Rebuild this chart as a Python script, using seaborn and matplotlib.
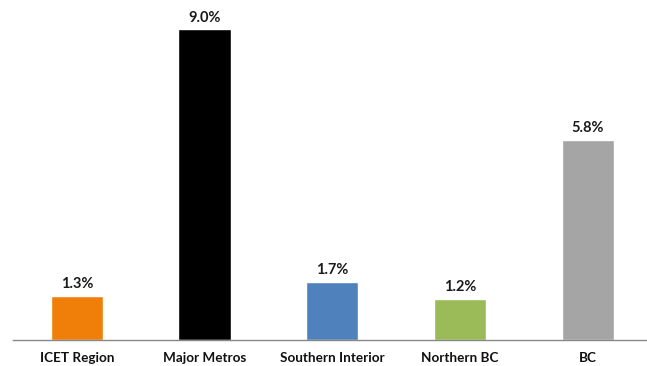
import matplotlib
matplotlib.use("Agg")
import matplotlib.pyplot as plt
import seaborn as sns
import pandas as pd

categories = ["ICET Region", "Major Metros", "Southern Interior", "Northern BC", "BC"]
values = [1.3, 9.0, 1.7, 1.2, 5.8]
colors = ["#F07F09", "#000000", "#4F81BD", "#9BBB59", "#A5A5A5"]

df = pd.DataFrame({"region": categories, "share": values})

sns.set_style("white")
plt.rcParams["font.family"] = ["Lato", "DejaVu Sans"]

fig = plt.figure(figsize=(6.47, 3.66), dpi=100)
ax = fig.add_axes([0.0201, 0.0697, 0.987, 0.930])

sns.barplot(data=df, x="region", y="share", hue="region", palette=colors,
            width=0.41, saturation=1, legend=False, ax=ax)

ax.set_xlim(-0.5, len(categories) - 0.5)
ax.set_ylim(0, 9.84)

for i, v in enumerate(values):
    ax.text(i, v + 0.13, f"{v:.1f}%", ha="center", va="bottom",
            fontsize=10.5, fontweight="bold", color="#1a1a1a")

for side in ["top", "right", "left"]:
    ax.spines[side].set_visible(False)
ax.spines["bottom"].set_color("#888888")
ax.spines["bottom"].set_linewidth(1.0)

ax.set_yticks([])
ax.set_xlabel("")
ax.set_ylabel("")
ax.set_xticks(range(len(categories)))
ax.set_xticklabels(categories, fontsize=9.7, fontweight="bold", color="#111111")
ax.tick_params(axis="x", which="major", length=0, pad=8.5)
ax.set_xticks([i - 0.5 for i in range(len(categories) + 1)], minor=True)
ax.tick_params(axis="x", which="minor", length=4, color="#888888", width=1, direction="out")

fig.savefig("out.png", dpi=100)
